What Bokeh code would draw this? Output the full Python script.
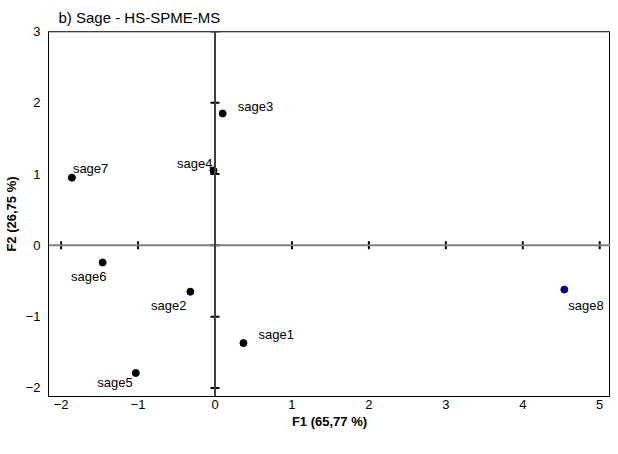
import math
from bokeh.plotting import figure
from bokeh.models import ColumnDataSource, Span, Range1d, FixedTicker, Title
from bokeh.core.properties import value
from bokeh.embed import file_html
from bokeh.resources import INLINE

# ---- data ----
samples = ["sage1", "sage2", "sage3", "sage4", "sage5", "sage6", "sage7", "sage8"]
f1 = [0.37, -0.32, 0.10, -0.02, -1.03, -1.46, -1.86, 4.54]
f2 = [-1.37, -0.65, 1.85, 1.05, -1.79, -0.24, 0.95, -0.62]
point_colors = ["black"] * 7 + ["#000080"]
x_ticks = [-2, -1, 0, 1, 2, 3, 4, 5]
y_ticks = [-2, -1, 0, 1, 2, 3]
title_text = "b) Sage - HS-SPME-MS"
x_label = "F1 (65,77 %)"
y_label = "F2 (26,75 %)"

# label placement (styling)
label_align = ["left", "right", "left", "right", "right", "center", "left", "left"]
label_dx = [15, -4, 15, -1, -3, -14, 1, 4]
label_dy = [-9, 14, -7, -7, 10, 14, -9, 16]

FONT = "Liberation Sans"
X_MIN, X_MAX = -2.164, 5.14
Y_MIN, Y_MAX = -2.12, 3.0

p = figure(width=610, height=438, output_backend="svg", toolbar_location=None,
           x_range=Range1d(X_MIN, X_MAX), y_range=Range1d(Y_MIN, Y_MAX),
           min_border_left=41, min_border_right=0, min_border_top=25, min_border_bottom=42)
p.title = Title(text=title_text, align="left", offset=10, text_font=FONT,
                text_font_size="15px", text_font_style="normal", text_color="black",
                standoff=12)
p.grid.visible = False
p.outline_line_color = "black"
p.outline_line_width = 1
p.background_fill_color = "white"
p.border_fill_color = "white"

for ax in (p.xaxis, p.yaxis):
    ax.axis_line_color = "black"
    ax.major_tick_line_color = None
    ax.minor_tick_line_color = None
    ax.major_tick_out = 0
    ax.major_tick_in = 0
    ax.minor_tick_out = 0
    ax.minor_tick_in = 0
    ax.major_label_text_font = FONT
    ax.major_label_text_font_size = "13px"
    ax.major_label_text_color = "black"
    ax.axis_label_text_font = FONT
    ax.axis_label_text_font_size = "13px"
    ax.axis_label_text_font_style = "bold"
    ax.axis_label_text_color = "black"
p.xaxis.ticker = FixedTicker(ticks=x_ticks)
p.yaxis.ticker = FixedTicker(ticks=y_ticks)
p.xaxis.axis_label = x_label
p.yaxis.axis_label = y_label
p.xaxis.major_label_standoff = 3
p.yaxis.major_label_standoff = 8
p.xaxis.axis_label_standoff = 2
p.yaxis.axis_label_standoff = 4

# top frame line (grey)
p.add_layout(Span(location=Y_MAX, dimension="width", line_color="#808080", line_width=2))
# zero axes
p.add_layout(Span(location=0, dimension="width", line_color="#808080", line_width=2))
p.add_layout(Span(location=0, dimension="height", line_color="#808080", line_width=2))
p.add_layout(Span(location=0, dimension="height", line_color="black", line_width=1))

# tick marks on zero axes
p.scatter(x=x_ticks, y=[0] * len(x_ticks), marker="dash", size=8, angle=math.pi / 2,
          line_color="black", line_width=2)
p.scatter(x=[0] * len(y_ticks), y=y_ticks, marker="dash", size=9,
          line_color="black", line_width=2)

src = ColumnDataSource(dict(x=f1, y=f2, name=samples, color=point_colors,
                            align=label_align, dx=label_dx, dy=label_dy))
p.scatter("x", "y", source=src, size=7, fill_color="color", line_color="color")
p.text("x", "y", text="name", source=src, x_offset="dx", y_offset="dy",
       text_align="align", text_baseline="middle", text_font=value(FONT),
       text_font_size="13px", text_color="black")

open("out.html", "w").write(file_html(p, INLINE))
